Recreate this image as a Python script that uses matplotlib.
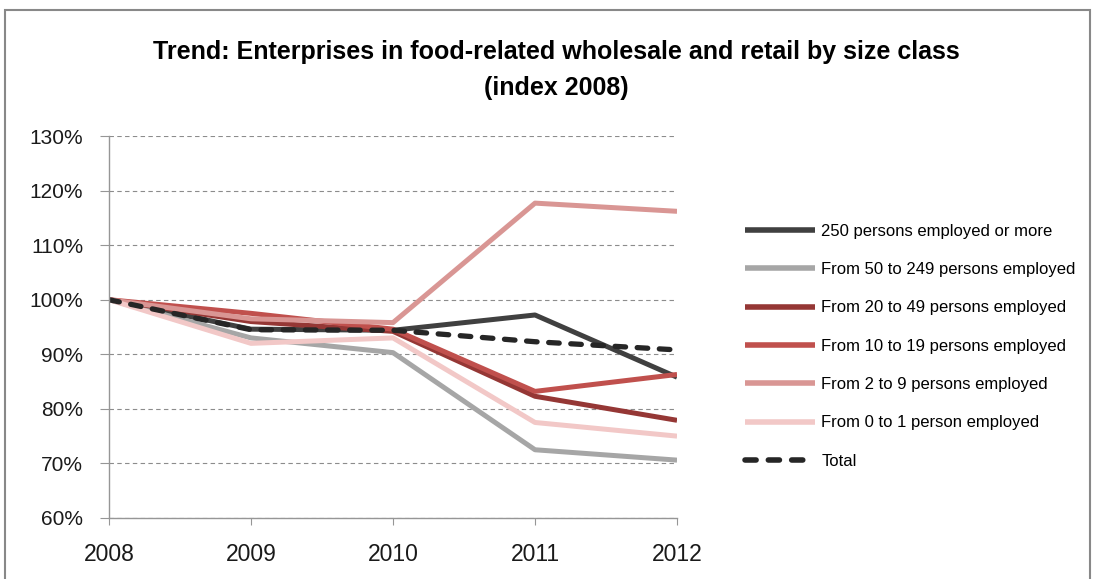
import matplotlib.pyplot as plt
import matplotlib.patches as mpatches
from matplotlib.ticker import FuncFormatter

years = ['2008', '2009', '2010', '2011', '2012']

labels = [
    '250 persons employed or more',
    'From 50 to 249 persons employed',
    'From 20 to 49 persons employed',
    'From 10 to 19 persons employed',
    'From 2 to 9 persons employed',
    'From 0 to 1 person employed',
]
size_250_plus = [100.0, 94.6, 94.4, 97.2, 85.8]
size_50_249 = [100.0, 93.0, 90.3, 72.5, 70.6]
size_20_49 = [100.0, 96.0, 94.2, 82.3, 77.9]
size_10_19 = [100.0, 97.5, 94.6, 83.2, 86.3]
size_2_9 = [100.0, 96.5, 95.8, 117.7, 116.2]
size_0_1 = [100.0, 92.0, 93.0, 77.5, 75.0]
total = [100.0, 94.5, 94.4, 92.3, 90.8]

series = [size_250_plus, size_50_249, size_20_49, size_10_19, size_2_9, size_0_1]
colors = ['#404040', '#a6a6a6', '#953735', '#c0504d', '#d99694', '#f2c8c7']

plt.rcParams['font.family'] = ['Liberation Sans', 'DejaVu Sans']

fig = plt.figure(figsize=(10.95, 5.79), dpi=100)
# outer chart frame
fig.patches.append(mpatches.Rectangle((0.005, -0.05), 0.99, 1.032, transform=fig.transFigure,
                                      fill=False, edgecolor='#888888', linewidth=1.5))

ax = fig.add_axes([0.0995, 0.1054, 0.5188, 0.6597])
x = list(range(len(years)))

for values, color, label in zip(series, colors, labels):
    ax.plot(x, values, color=color, linewidth=3.6, label=label, solid_capstyle='butt')
ax.plot(x, total, color='#262626', linewidth=3.8, linestyle=(0, (2.0, 2.2)),
        dash_capstyle='round', label='Total')

ax.set_xlim(0, 4)
ax.set_ylim(60, 130)
ax.set_yticks(range(60, 131, 10))
ax.yaxis.set_major_formatter(FuncFormatter(lambda v, _: f'{v:.0f}%'))
ax.set_xticks(x)
ax.set_xticklabels(years)
ax.grid(axis='y', color='#8c8c8c', linestyle=(0, (4, 3)), linewidth=0.8)
ax.set_axisbelow(True)

for side in ['top', 'right']:
    ax.spines[side].set_visible(False)
for side in ['left', 'bottom']:
    ax.spines[side].set_color('#969696')
    ax.spines[side].set_linewidth(1.0)

ax.tick_params(axis='x', length=5, color='#969696', pad=13, labelsize=16.5, labelcolor='#1a1a1a')
ax.tick_params(axis='y', length=6.5, color='#969696', pad=12, labelsize=15, labelcolor='#1a1a1a')

fig.text(0.508, 0.879, 'Trend: Enterprises in food-related wholesale and retail by size class\n(index 2008)',
         ha='center', va='center', fontsize=18, fontweight='bold', linespacing=1.6)

handles, leg_labels = ax.get_legend_handles_labels()
leg = fig.legend(handles, leg_labels, loc='upper left', bbox_to_anchor=(0.674, 0.625),
                 frameon=False, fontsize=12, handlelength=4.2, handletextpad=0.4,
                 labelspacing=1.4, borderaxespad=0)
for line in leg.get_lines():
    line.set_linewidth(4)

fig.savefig('out.png', dpi=100)
